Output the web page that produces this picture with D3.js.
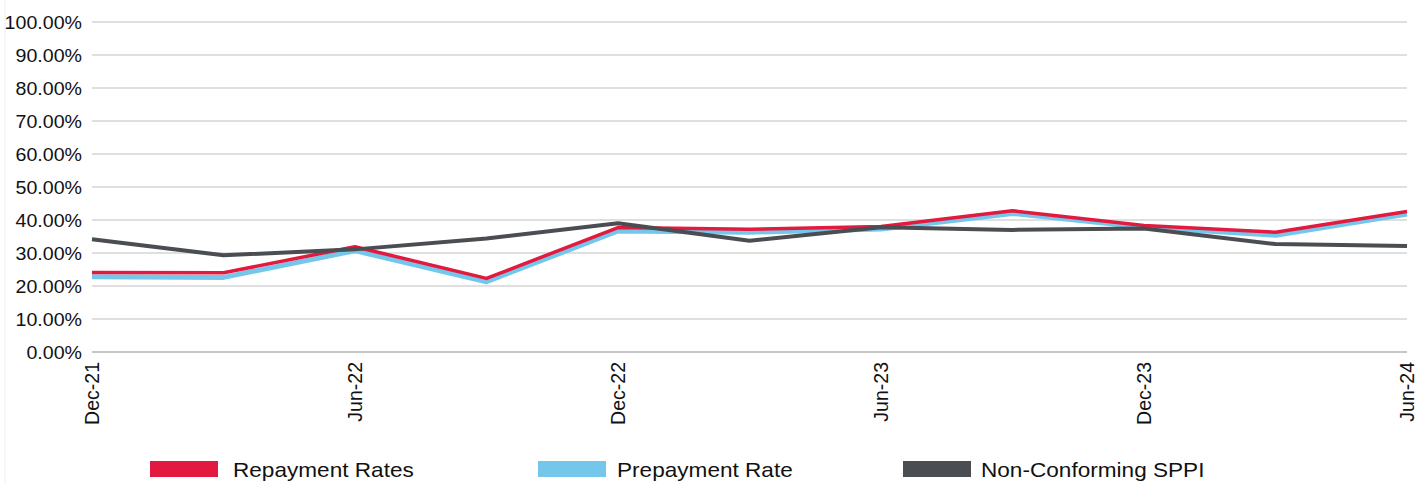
<!DOCTYPE html>
<html>
<head>
<meta charset="utf-8">
<script src="https://cdn.jsdelivr.net/npm/d3@7"></script>
<style>
  html, body { margin: 0; padding: 0; background: #fff; }
  svg { display: block; font-family: "Liberation Sans", Arial, sans-serif; }
</style>
</head>
<body>
<svg id="chart" width="1424" height="483"></svg>
<script>
const categories = ["Dec-21","Mar-22","Jun-22","Sep-22","Dec-22","Mar-23","Jun-23","Sep-23","Dec-23","Mar-24","Jun-24"];
const tickLabels = ["Dec-21","Jun-22","Dec-22","Jun-23","Dec-23","Jun-24"];
const repaymentRates = [24.1, 24.0, 31.9, 22.3, 37.7, 37.2, 38.0, 42.8, 38.3, 36.3, 42.6];
const prepaymentRate = [22.8, 22.6, 30.7, 21.3, 36.7, 36.3, 37.3, 42.0, 37.8, 35.4, 41.8];
const nonConformingSPPI = [34.2, 29.3, 31.1, 34.4, 39.0, 33.7, 37.8, 37.0, 37.4, 32.7, 32.1];
const yTicks = [0,10,20,30,40,50,60,70,80,90,100];
const seriesNames = ["Repayment Rates", "Prepayment Rate", "Non-Conforming SPPI"];

const svg = d3.select("#chart");
const colors = { "Repayment Rates": "#e31a3f", "Prepayment Rate": "#74c7ea", "Non-Conforming SPPI": "#4a4d51" };
const widths = { "Repayment Rates": 3.5, "Prepayment Rate": 5, "Non-Conforming SPPI": 4 };

const x = d3.scalePoint().domain(categories).range([92, 1407]);
const y = d3.scaleLinear().domain([0, 100]).range([352, 22]);

// faint outer border
svg.append("line").attr("x1", 5).attr("x2", 5).attr("y1", 0).attr("y2", 483)
  .attr("stroke", "#ededed").attr("stroke-width", 1);

// gridlines
svg.append("g").selectAll("line").data(yTicks).join("line")
  .attr("x1", 92).attr("x2", 1407)
  .attr("y1", d => y(d)).attr("y2", d => y(d))
  .attr("stroke", d => d === 0 ? "#c6c6c6" : "#d4d4d4")
  .attr("stroke-width", d => d === 0 ? 2 : 1.4);

// y axis
const yAxis = svg.append("g").attr("transform", "translate(92,0)")
  .call(d3.axisLeft(y).tickValues(yTicks).tickSize(0).tickPadding(10).tickFormat(d => d.toFixed(2) + "%"));
yAxis.select(".domain").remove();
yAxis.selectAll("text")
  .attr("font-size", 18).attr("fill", "#111")
  .attr("font-family", "'Liberation Sans', Arial, sans-serif")
  .attr("x", 0).attr("dy", "0.36em")
  .attr("transform", "translate(-10,0) scale(1.09,1)");

// x axis
const xAxis = svg.append("g").attr("transform", "translate(0,352)")
  .call(d3.axisBottom(x).tickValues(tickLabels).tickSize(0));
xAxis.select(".domain").remove();
xAxis.selectAll("text")
  .attr("font-size", 19.5).attr("fill", "#111")
  .attr("font-family", "'Liberation Sans', Arial, sans-serif")
  .attr("text-anchor", "end")
  .attr("x", 0).attr("y", 0).attr("dy", "0.35em")
  .attr("transform", "translate(0,10) rotate(-90)");

// lines
const seriesData = {
  "Repayment Rates": repaymentRates,
  "Prepayment Rate": prepaymentRate,
  "Non-Conforming SPPI": nonConformingSPPI
};
const line = d3.line().x((d, i) => x(categories[i])).y(d => y(d));
["Prepayment Rate", "Repayment Rates", "Non-Conforming SPPI"].forEach(name => {
  svg.append("path")
    .datum(seriesData[name])
    .attr("d", line)
    .attr("fill", "none")
    .attr("stroke", colors[name])
    .attr("stroke-width", widths[name])
    .attr("stroke-linejoin", "round");
});

// legend
const legendSwatchX = [150, 538, 903];
const legendTextX = [233, 617, 981];
const legend = svg.append("g").selectAll("g").data(seriesNames).join("g");
legend.append("rect").attr("x", (d, i) => legendSwatchX[i]).attr("y", 461).attr("width", 68).attr("height", 16)
  .attr("fill", d => colors[d]);
legend.append("text")
  .attr("transform", (d, i) => `translate(${legendTextX[i]},477) scale(1.13,1)`)
  .attr("font-size", 20).attr("fill", "#111")
  .text(d => d);
</script>
</body>
</html>
